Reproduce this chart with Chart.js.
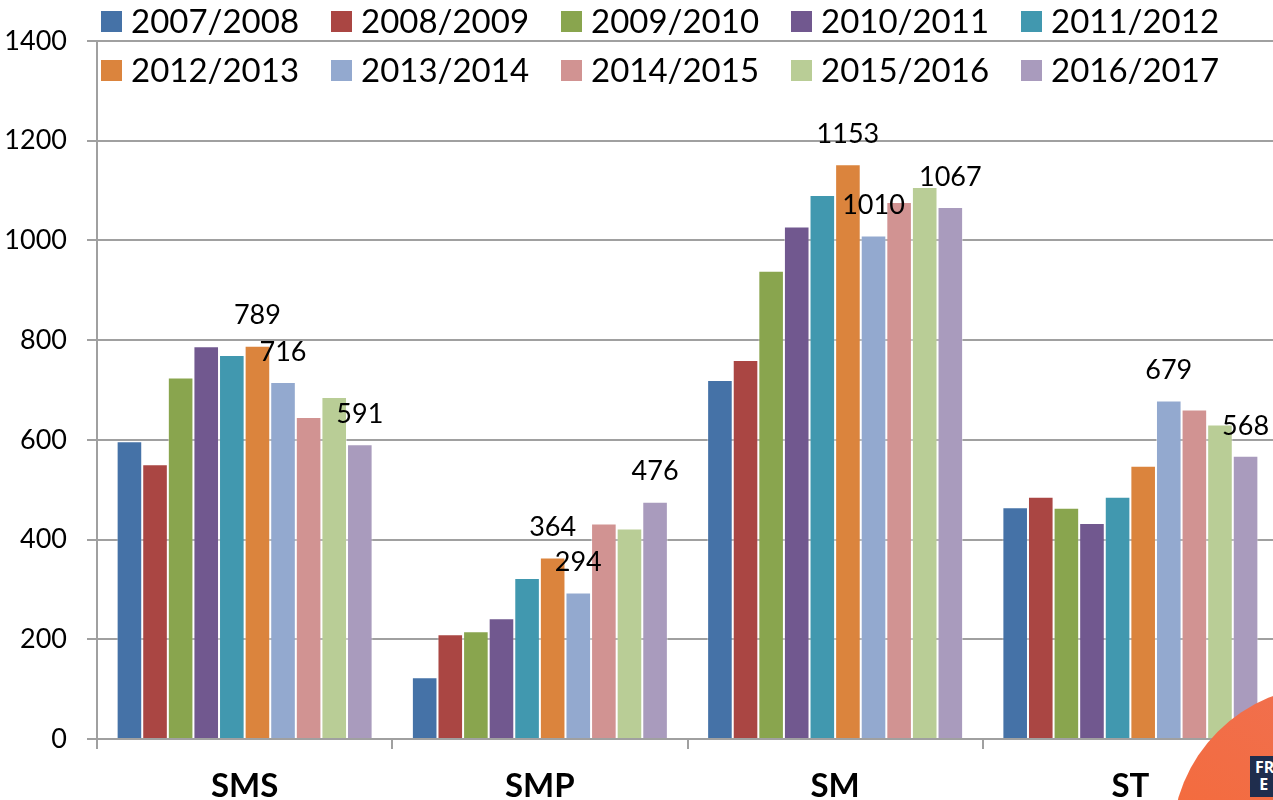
<!DOCTYPE html>
<html>
<head>
<meta charset="utf-8">
<title>SMS / SMP / SM / ST</title>
<script src="https://cdn.jsdelivr.net/npm/chart.js@4.4.1/dist/chart.umd.min.js"></script>
<style>
    html, body { margin: 0; padding: 0; background: #fff; overflow: hidden; }
    #wrap { position: relative; width: 1273px; height: 800px; overflow: hidden; }
    #chart-box { position: absolute; left: 0; top: 0; width: 1282px; height: 800px; }
    .badge {
        position: absolute; left: 1172px; top: 686px; width: 312px; height: 312px;
        border-radius: 50%;
        background: linear-gradient(210deg, #f07257 0%, #f26d45 45%, #f8682c 100%);
    }
    .badge span {
        position: absolute; left: 78px; top: 70px;
        font: bold 16px/17px "Open Sans", sans-serif; color: #fff;
        background: #1f2d4d; padding: 3px 8px 4px 5px;
    }
</style>
</head>
<body>
<div id="wrap">
    <div id="chart-box"><canvas id="chart"></canvas></div>
    <div class="badge"><span>FR<br>&nbsp;E</span></div>
</div>
<script>
// Categories and seasons
const categories = ['SMS', 'SMP', 'SM', 'ST'];
const seasons = ['2007/2008', '2008/2009', '2009/2010', '2010/2011', '2011/2012',
                 '2012/2013', '2013/2014', '2014/2015', '2015/2016', '2016/2017'];

// Values per season (SMS, SMP, SM, ST)
const s0708 = [597, 124, 720, 465];
const s0809 = [551, 210, 760, 486];
const s0910 = [725, 216, 939, 464];
const s1011 = [788, 242, 1028, 433];
const s1112 = [770, 323, 1091, 486];
const s1213 = [789, 364, 1153, 548];
const s1314 = [716, 294, 1010, 679];
const s1415 = [646, 432, 1077, 661];
const s1516 = [686, 422, 1107, 631];
const s1617 = [591, 476, 1067, 568];
const series = [s0708, s0809, s0910, s1011, s1112, s1213, s1314, s1415, s1516, s1617];

// Y axis ticks
const yTicks = [0, 200, 400, 600, 800, 1000, 1200, 1400];

// Which bars carry a value label: [season index, category index]
const shownLabels = [
    [5, 0], [6, 0], [9, 0],
    [5, 1], [6, 1], [9, 1],
    [5, 2], [6, 2], [9, 2],
    [6, 3], [9, 3]
];

const colors = ['#4572a7', '#aa4643', '#89a54e', '#71588f', '#4198af',
                '#db843d', '#93a9cf', '#d19392', '#b9cd96', '#a99bbd'];

const FONT = 'Lato';
const GRID = '#a0a0a0';

// Value labels above selected bars
const barLabels = {
    id: 'barLabels',
    afterDatasetsDraw(chart) {
        const ctx = chart.ctx;
        ctx.save();
        ctx.font = '27px ' + FONT;
        ctx.fillStyle = '#000';
        ctx.textAlign = 'center';
        ctx.textBaseline = 'middle';
        shownLabels.forEach(function(p) {
            const bar = chart.getDatasetMeta(p[0]).data[p[1]];
            ctx.fillText(String(series[p[0]][p[1]]), bar.x, bar.y - 30);
        });
        ctx.restore();
    }
};

// Legend in two rows, laid over the top of the plot
const overlayLegend = {
    id: 'overlayLegend',
    afterDraw(chart) {
        const ctx = chart.ctx;
        ctx.save();
        ctx.font = '33px ' + FONT;
        ctx.textBaseline = 'middle';
        ctx.textAlign = 'left';
        seasons.forEach(function(name, i) {
            const col = i % 5;
            const row = Math.floor(i / 5);
            const x = 101 + col * 230;
            const y = 21.5 + row * 49;
            ctx.fillStyle = colors[i];
            ctx.fillRect(x, y - 10.5, 21, 21);
            ctx.fillStyle = '#000';
            ctx.fillText(name, x + 30, y + 1);
        });
        ctx.restore();
    }
};

const ctx = document.getElementById('chart').getContext('2d');
new Chart(ctx, {
    type: 'bar',
    data: {
        labels: categories,
        datasets: seasons.map(function(name, i) {
            return {
                label: name,
                data: series[i],
                backgroundColor: colors[i],
                borderColor: 'rgba(255,255,255,0.45)',
                borderWidth: 1,
                barPercentage: 1,
                categoryPercentage: 0.867
            };
        })
    },
    options: {
        responsive: true,
        maintainAspectRatio: false,
        animation: false,
        layout: { padding: { top: 41, right: 4, left: 0, bottom: 0 } },
        plugins: {
            legend: { display: false },
            tooltip: { enabled: false }
        },
        scales: {
            x: {
                grid: {
                    offset: true,
                    drawOnChartArea: false,
                    drawTicks: true,
                    tickLength: 10,
                    color: GRID,
                    lineWidth: 2
                },
                border: { color: GRID, width: 2 },
                ticks: {
                    color: '#000',
                    padding: 18,
                    font: { family: FONT, size: 33, weight: 'bold' }
                },
                afterFit: function(scale) { scale.height = 61; }
            },
            y: {
                min: 0,
                max: 1400,
                afterBuildTicks: function(scale) {
                    scale.ticks = yTicks.map(function(v) { return { value: v }; });
                },
                grid: {
                    color: GRID,
                    lineWidth: 2,
                    tickLength: 10
                },
                border: { color: GRID, width: 2 },
                ticks: {
                    color: '#000',
                    padding: 20,
                    font: { family: FONT, size: 27 },
                    callback: function(value) { return String(value); }
                },
                afterFit: function(scale) { scale.width = 97; }
            }
        }
    },
    plugins: [barLabels, overlayLegend]
});
</script>
</body>
</html>
